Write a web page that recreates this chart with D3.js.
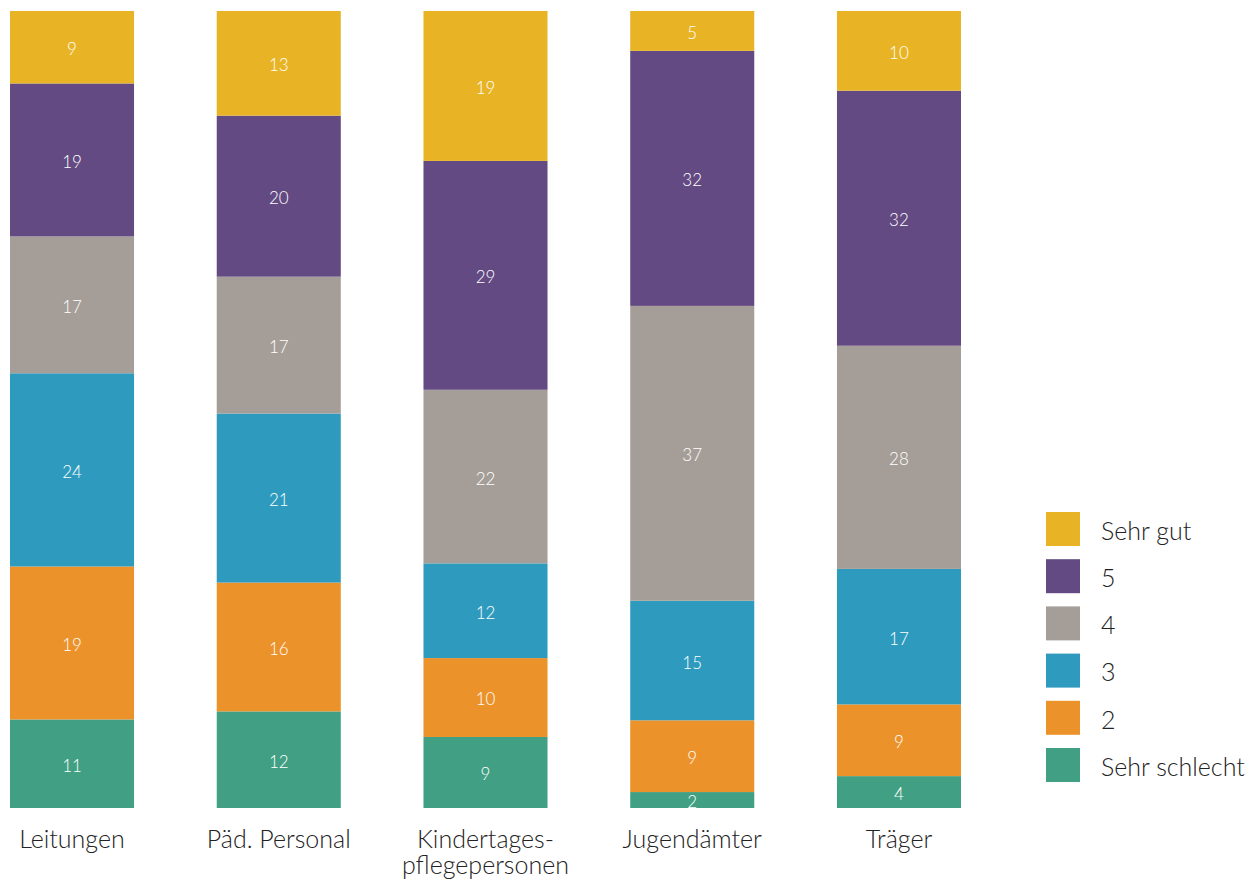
<!DOCTYPE html>
<html>
<head>
<meta charset="utf-8">
<script src="https://cdn.jsdelivr.net/npm/d3@7"></script>
<style>
  body { margin: 0; background: #fff; }
  text { font-family: "Lato", "Open Sans", sans-serif; font-weight: 300; }
</style>
</head>
<body>
<div id="chart-area"></div>
<script>
// values per group, in percent
var groups = ["Leitungen", "Päd. Personal", "Kindertages-\npflegepersonen", "Jugendämter", "Träger"];
var keys = ["Sehr schlecht", "2", "3", "4", "5", "Sehr gut"];
var sehrSchlecht = [11, 12, 9, 2, 4];
var zwei = [19, 16, 10, 9, 9];
var drei = [24, 21, 12, 15, 17];
var vier = [17, 17, 22, 37, 28];
var fuenf = [19, 20, 29, 32, 32];
var sehrGut = [9, 13, 19, 5, 10];
var colours = ["#41a083", "#ec922b", "#2e9bbe", "#a59e98", "#634a82", "#e8b425"];

var width = 1257;
var height = 882;

var svg = d3.select("#chart-area").append("svg")
    .attr("width", width)
    .attr("height", height);

var series = [sehrSchlecht, zwei, drei, vier, fuenf, sehrGut];
var data = groups.map((g, i) => {
    var row = {group: g};
    keys.forEach((k, j) => { row[k] = series[j][i]; });
    return row;
});

var stack = d3.stack()
    .keys(keys)
    .offset(d3.stackOffsetExpand);
var stacked = stack(data);

var x = d3.scaleBand()
    .domain(groups)
    .range([10, 961])
    .paddingInner(0.4)
    .paddingOuter(0);

var y = d3.scaleLinear()
    .domain([0, 1])
    .range([808, 11]);

var colour = d3.scaleOrdinal()
    .domain(keys)
    .range(colours);

var layer = svg.selectAll("g.layer")
    .data(stacked)
    .enter()
    .append("g")
        .attr("class", "layer")
        .attr("fill", (d) => colour(d.key));

layer.selectAll("rect")
    .data((d) => d)
    .enter()
    .append("rect")
        .attr("x", (d) => x(d.data.group))
        .attr("y", (d) => y(d[1]))
        .attr("width", x.bandwidth())
        .attr("height", (d) => y(d[0]) - y(d[1]));

// value labels
stacked.forEach((s) => {
    svg.selectAll(null)
        .data(s)
        .enter()
        .append("text")
            .attr("x", (d) => x(d.data.group) + x.bandwidth() / 2)
            .attr("y", (d) => (y(d[0]) + y(d[1])) / 2 + 2)
            .attr("dy", "0.35em")
            .attr("text-anchor", "middle")
            .attr("font-size", "17px")
            .attr("fill", "#ffffff")
            .text((d) => d.data[s.key]);
});

// category labels, one text per line
groups.forEach((g) => {
    g.split("\n").forEach((l, i) => {
        svg.append("text")
            .attr("class", "cat")
            .attr("x", x(g) + x.bandwidth() / 2)
            .attr("y", 848 + i * 26)
            .attr("text-anchor", "middle")
            .attr("font-size", "25px")
            .attr("fill", "#222")
            .text(l);
    });
});

// legend
var legendKeys = keys.slice().reverse();
var legend = svg.selectAll("g.legend")
    .data(legendKeys)
    .enter()
    .append("g")
        .attr("class", "legend")
        .attr("transform", (d, i) => "translate(1046, " + (512 + i * 47.2) + ")");

legend.append("rect")
    .attr("width", 34)
    .attr("height", 34)
    .attr("fill", (d) => colour(d));

legend.append("text")
    .attr("x", 55)
    .attr("y", 19)
    .attr("dy", "0.35em")
    .attr("font-size", "25px")
    .attr("fill", "#222")
    .text((d) => d);
</script>
</body>
</html>
